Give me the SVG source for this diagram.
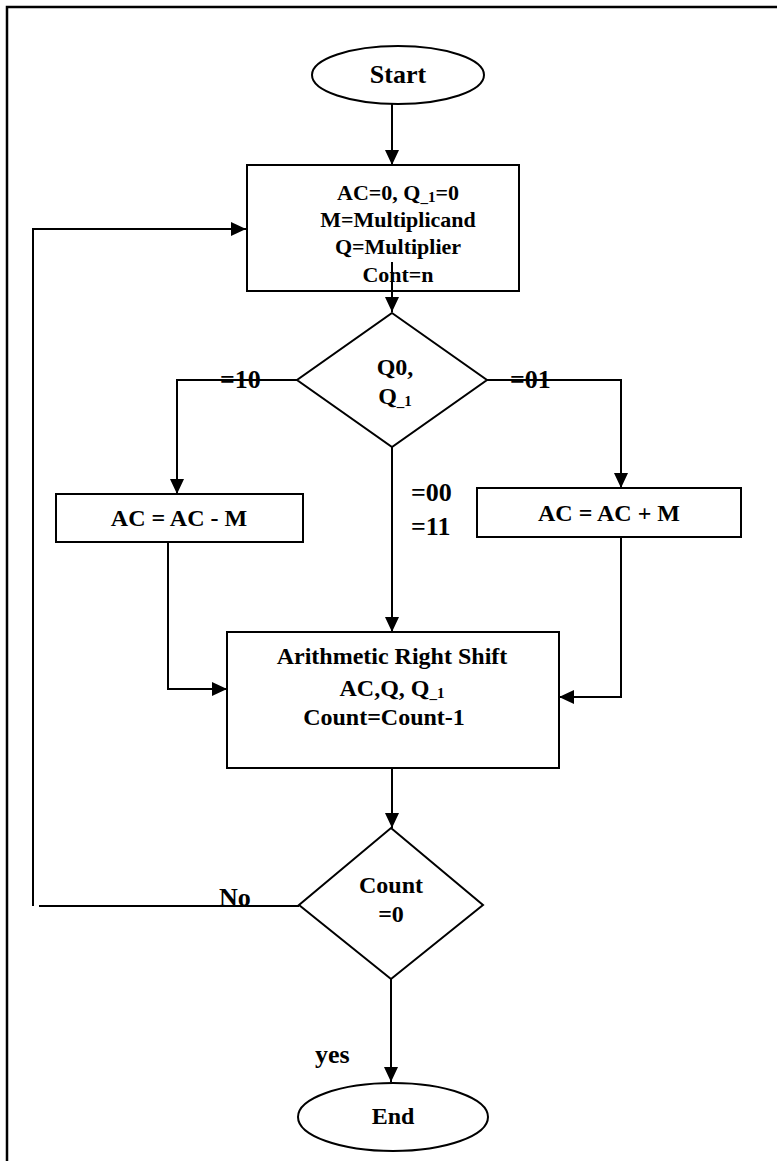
<svg xmlns="http://www.w3.org/2000/svg" width="777" height="1161" viewBox="0 0 777 1161">
<style>
.shape{fill:#fff;stroke:#000;stroke-width:2}
.ln{fill:none;stroke:#000;stroke-width:2}
.t{font-family:"Liberation Serif","Times New Roman",serif;font-weight:bold;font-size:24px;fill:#000;text-anchor:middle}
.t1{font-size:22px}
.big{font-size:26px}
.lbl{font-family:"Liberation Serif","Times New Roman",serif;font-weight:bold;font-size:26px;fill:#000}
.sub{font-size:15px}
</style>
<defs>
<marker id="ah" viewBox="0 0 15 14" refX="15" refY="7" markerWidth="15" markerHeight="14" markerUnits="userSpaceOnUse" orient="auto">
<path d="M0,0 L15,7 L0,14 Z" fill="#000"/>
</marker>
</defs>
<rect width="777" height="1161" fill="#fff"/>
<path d="M7,1161 V7 H777" fill="none" stroke="#000" stroke-width="2.5"/>
<g id="connectors">
<path class="ln" d="M392,104 V165" marker-end="url(#ah)"/>
<path class="ln" d="M392,262 V312" marker-end="url(#ah)"/>
<path class="ln" d="M297,380 H177 V494" marker-end="url(#ah)"/>
<path class="ln" d="M487,380 H621 V488" marker-end="url(#ah)"/>
<path class="ln" d="M392,447 V632" marker-end="url(#ah)"/>
<path class="ln" d="M168,542 V689 H227" marker-end="url(#ah)"/>
<path class="ln" d="M621,537 V697 H559" marker-end="url(#ah)"/>
<path class="ln" d="M392,768 V828" marker-end="url(#ah)"/>
<path class="ln" d="M299,906 H39"/>
<path class="ln" d="M33,906 V229 H246" marker-end="url(#ah)"/>
<path class="ln" d="M391,979 V1082" marker-end="url(#ah)"/>
<text class="lbl" x="220" y="388">=10</text>
<text class="lbl" x="510" y="388">=01</text>
<text class="lbl" x="411" y="501">=00</text>
<text class="lbl" x="411" y="535">=11</text>
<text class="lbl" x="219" y="906">No</text>
<text class="lbl" x="315" y="1063">yes</text>
</g>
<g id="start">
<ellipse class="shape" cx="398" cy="75" rx="86" ry="29"/>
<text class="t big" x="398" y="83">Start</text>
</g>
<g id="init">
<rect class="shape" style="fill:none" x="247" y="165" width="272" height="126"/>
<text class="t t1" x="398" y="200">AC=0, Q<tspan class="sub" dy="2">_1</tspan><tspan dy="-2">=0</tspan></text>
<text class="t t1" x="398" y="227">M=Multiplicand</text>
<text class="t t1" x="398" y="254">Q=Multiplier</text>
<text class="t t1" x="398" y="282">Cont=n</text>
</g>
<g id="decision1">
<polygon class="shape" points="392,313 487,380 392,447 297,380"/>
<text class="t" x="395" y="375">Q0,</text>
<text class="t" x="395" y="404">Q<tspan class="sub" dy="2">_1</tspan></text>
</g>
<g id="sub">
<rect class="shape" x="56" y="494" width="247" height="48"/>
<text class="t" x="179" y="526">AC = AC - M</text>
</g>
<g id="add">
<rect class="shape" x="477" y="488" width="264" height="49"/>
<text class="t" x="609" y="521">AC = AC + M</text>
</g>
<g id="shift">
<rect class="shape" x="227" y="632" width="332" height="136"/>
<text class="t" x="392" y="664">Arithmetic Right Shift</text>
<text class="t" x="392" y="696">AC,Q, Q<tspan class="sub" dy="2">_1</tspan></text>
<text class="t" x="384" y="725">Count=Count-1</text>
</g>
<g id="decision2">
<polygon class="shape" points="391,828 483,905 391,979 299,905"/>
<text class="t" x="391" y="893">Count</text>
<text class="t" x="391" y="922">=0</text>
</g>
<g id="end">
<ellipse class="shape" cx="393" cy="1117" rx="95" ry="34"/>
<text class="t" x="393" y="1124">End</text>
</g>
</svg>
